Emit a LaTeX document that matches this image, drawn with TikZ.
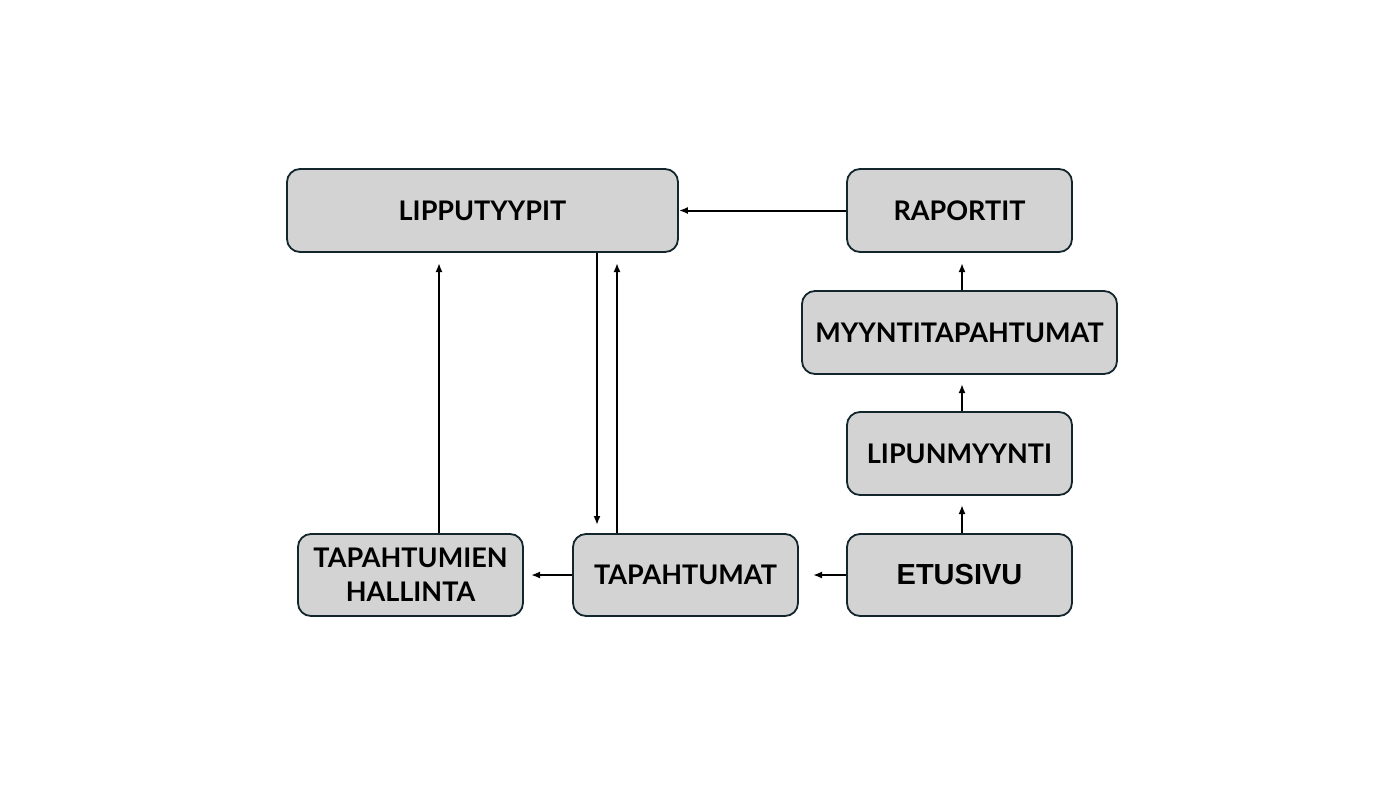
\documentclass[tikz,border=0pt]{standalone}
\usepackage{fontspec}
\setmainfont{Lato}
\newfontfamily\arialfont{Liberation Sans}
\usetikzlibrary{arrows.meta}
\definecolor{boxfill}{HTML}{D3D3D3}
\definecolor{boxline}{HTML}{13262E}
\tikzset{
  box/.style={draw=boxline, fill=boxfill, line width=1.8pt, rounded corners=13pt,
    align=center, font=\fontsize{27}{34}\selectfont\bfseries, inner sep=0pt},
  conn/.style={line width=2pt, -{Latex[length=9pt,width=7pt]}},
}
\begin{document}
\begin{tikzpicture}[x=1pt,y=-1pt]
\useasboundingbox[fill=white] (0,0) rectangle (1387,801);
\node[box, minimum width=391pt, minimum height=83pt] (lip) at (482.5,210.5) {LIPPUTYYPIT};
\node[box, minimum width=225pt, minimum height=83pt] (rap) at (959.5,210.5) {RAPORTIT};
\node[box, minimum width=315pt, minimum height=83pt] (myy) at (959.5,332.5) {MYYNTITAPAHTUMAT};
\node[box, minimum width=225pt, minimum height=83pt] (lpm) at (959.5,453.5) {LIPUNMYYNTI};
\node[box, minimum width=225pt, minimum height=82pt, font=\fontsize{29}{34}\selectfont\arialfont\bfseries] (etu) at (959.5,575) {ETUSIVU};
\node[box, minimum width=225pt, minimum height=82pt] (tap) at (685.5,575) {TAPAHTUMAT};
\node[box, minimum width=225pt, minimum height=82pt] (hal) at (410.5,575) {TAPAHTUMIEN\\HALLINTA};
\coordinate (c1) at (962,263);
\coordinate (c2) at (962,384);
\coordinate (c3) at (962,505);
\coordinate (c4) at (813,575);
\coordinate (c5) at (531,575);
\coordinate (c6) at (439,263);
\coordinate (c7) at (597,525);
\coordinate (c8) at (617,263);
\draw[conn] (rap.west) -- (lip.east);
\draw[conn] (myy.north -| c1) -- (c1);
\draw[conn] (lpm.north -| c2) -- (c2);
\draw[conn] (etu.north -| c3) -- (c3);
\draw[conn] (etu.west) -- (c4);
\draw[conn] (tap.west) -- (c5);
\draw[conn] (hal.north -| c6) -- (c6);
\draw[conn] (lip.south -| c7) -- (c7);
\draw[conn] (tap.north -| c8) -- (c8);
\end{tikzpicture}
\end{document}
